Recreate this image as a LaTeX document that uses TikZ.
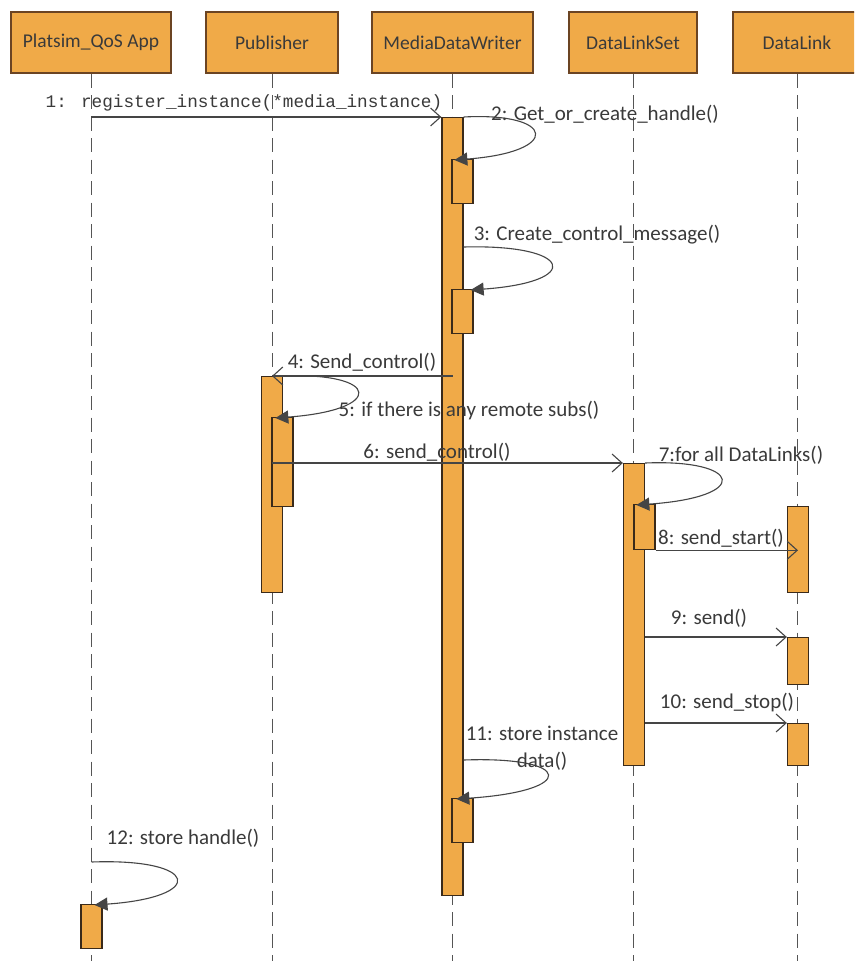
\documentclass[tikz,border=0pt]{standalone}
\usepackage{fontspec}
\setmainfont{Carlito}
\newfontfamily\monof{Liberation Mono}
\usetikzlibrary{arrows.meta,calc}
\definecolor{orng}{HTML}{F0AA48}
\definecolor{hdrline}{HTML}{6B4423}
\definecolor{barline}{HTML}{3A2A1A}
\definecolor{ln}{HTML}{454545}
\definecolor{txt}{HTML}{3A3A3A}
\definecolor{lifec}{HTML}{555555}
\begin{document}
\begin{tikzpicture}[x=1pt,y=-1pt,
  hdr/.style={draw=hdrline, fill=orng, line width=1.2pt, minimum height=61pt, inner sep=0pt, font=\fontsize{19.5}{22}\selectfont, text=txt},
  actbar/.style={draw=barline, fill=orng, line width=1.3pt, minimum width=21pt, anchor=north, inner sep=0pt},
  life/.style={draw=lifec, line width=1pt, dash pattern=on 14pt off 7.5pt},
  msg/.style={draw=ln, line width=1.1pt, -{Straight Barb[length=10pt,width=18pt,line width=1.1pt]}},
  selfmsg/.style={draw=ln, line width=1.1pt, -{Triangle[length=13pt,width=13pt]}},
  lbl/.style={font=\fontsize{21}{27}\selectfont, text=txt, inner sep=0pt},
  mlbl/.style={font=\monof\fontsize{17.7}{21}\selectfont, text=txt, inner sep=0pt}]
\useasboundingbox (0,0) rectangle (854,961);
\clip (0,0) rectangle (854,961);
\fill[white] (0,0) rectangle (854,961);
\coordinate (bottom) at (0,961);
% headers
\node[hdr, minimum width=160pt] (h1) at (91,42.5) {Platsim\_QoS App};
\node[hdr, minimum width=132pt] (h2) at (272,42.5) {Publisher};
\node[hdr, minimum width=161pt] (h3) at (452.5,42.5) {MediaDataWriter};
\node[hdr, minimum width=128pt] (h4) at (633,42.5) {DataLinkSet};
\node[hdr, minimum width=128pt] (h5) at (797,42.5) {DataLink};
% lifelines
\foreach \h in {h1,h2,h3,h4,h5} \draw[life] (\h.south) -- (\h.south |- bottom);
% activation bars
\node[actbar, minimum height=44pt] (app1) at (91.5,904) {};
\node[actbar, minimum height=216pt] (pub) at (272,376) {};
\node[actbar, minimum height=89pt] (pub1) at (282.5,417) {};
\node[actbar, minimum height=778pt] (mdw) at (452.5,117) {};
\node[actbar, minimum height=44pt] (mdw1) at (462.5,159) {};
\node[actbar, minimum height=44pt] (mdw2) at (462.5,289) {};
\node[actbar, minimum height=44pt] (mdw3) at (462.5,798) {};
\node[actbar, minimum height=302pt] (dls) at (634,463) {};
\node[actbar, minimum height=45pt] (dls1) at (644.5,504) {};
\node[actbar, minimum height=86pt] (dl1) at (798,506) {};
\node[actbar, minimum height=47pt] (dl2) at (798,637) {};
\node[actbar, minimum height=42pt] (dl3) at (798,723) {};
% messages
\draw[msg] (h1.south |- mdw.north) -- (mdw.north west);
\draw[msg] (mdw.center |- pub.north) -- (pub.north);
\draw[msg] (pub.center |- dls.north) -- (dls.north west);
\draw[msg] (dls1.south east) -- (dl1.center |- dls1.south);
\draw[msg] (dls.east |- dl2.north) -- (dl2.north west);
\draw[msg] (dls.east |- dl3.north) -- (dl3.north west);
% self calls
\draw[selfmsg] (mdw.north east) .. controls +(92,-5) and +(108,-8) .. ($(mdw1.north west)+(3,1)$);
\draw[selfmsg] ($(mdw.north east)+(0,130)$) .. controls +(110,-3) and +(113,-8) .. ($(mdw2.north east)+(-3,1)$);
\draw[selfmsg] (pub.north east) .. controls +(98,-4) and +(110,-8) .. ($(pub1.north west)+(4,1)$);
\draw[selfmsg] (dls.north east) .. controls +(97,-4) and +(116,-8) .. ($(dls1.north west)+(3,1)$);
\draw[selfmsg] ($(mdw.north east)+(0,643)$) .. controls +(110,-4) and +(122,-8) .. ($(mdw3.north west)+(5,1)$);
\draw[selfmsg] ($(app1.north)+(0,-42)$) .. controls +(108,-4) and +(113,-8) .. ($(app1.north)+(3,1)$);
% labels
\node[mlbl] (t1) at (244,103) {1: register\_instance(*media\_instance)};
\node[lbl] (t2) at (605,114) {2: Get\_or\_create\_handle()};
\node[lbl] (t3) at (597,235) {3: Create\_control\_message()};
\node[lbl] (t4) at (362,362) {4: Send\_control()};
\node[lbl] (t5) at (469,411) {5: if there is any remote subs()};
\node[lbl] (t6) at (437,452) {6: send\_control()};
\node[lbl] (t7) at (741,455) {7:for all DataLinks()};
\node[lbl] (t8) at (721,538) {8: send\_start()};
\node[lbl] (t9) at (709,618) {9: send()};
\node[lbl] (t10) at (727,703) {10: send\_stop()};
\node[lbl, align=center] (t11) at (542,748) {11: store instance\\data()};
\node[lbl] (t12) at (183,838) {12: store handle()};
\end{tikzpicture}
\end{document}
